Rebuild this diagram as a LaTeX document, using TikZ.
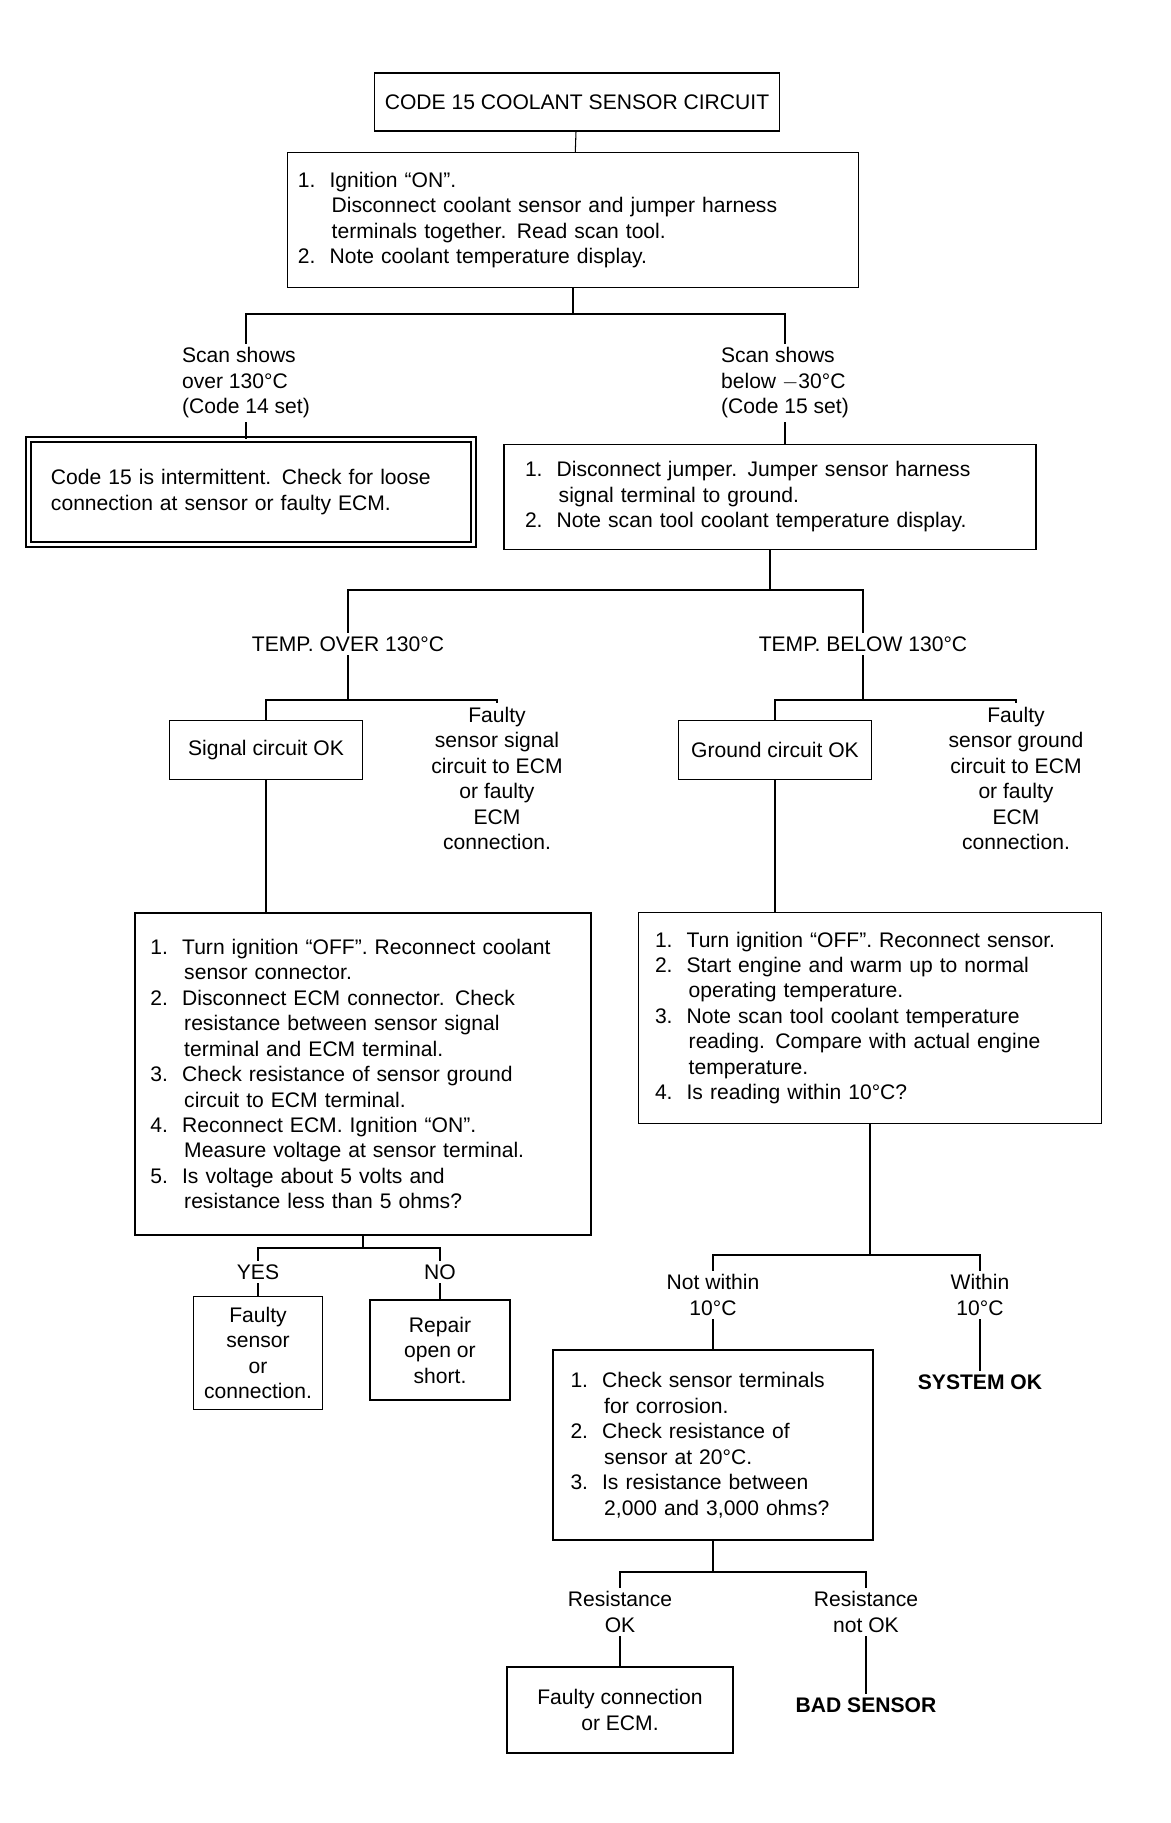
\documentclass[tikz,border=0pt]{standalone}
\usepackage{fontspec}
\setmainfont{Liberation Sans}
\begin{document}
\begin{tikzpicture}[x=0.2mm, y=-0.2mm,
          every node/.style={font=\fontsize{12}{14.5}\selectfont},
          box/.style={draw, thick, align=left, inner sep=6pt},
          dbox/.style={draw, double, double distance=2pt, thick, align=left, inner sep=7pt},
          txt/.style={align=left, inner sep=2pt},
          ctxt/.style={align=center, inner sep=2pt},
          bold txt/.style={align=center, inner sep=2pt, font=\fontsize{12}{14.5}\selectfont\bfseries},
          link/.style={semithick}]
          \useasboundingbox (0,0) rectangle (1171,1823);
          % top
          \node[box, align=center, minimum width=64.4mm, minimum height=11.6mm] (title) at (577,102) {CODE 15 COOLANT SENSOR CIRCUIT};
          \node[box, text width=110mm, minimum height=27mm] (steps) at (573,220) {1.\ \ Ignition ``ON''.\\
              \hspace*{1.6em}Disconnect coolant sensor and jumper harness\\
              \hspace*{1.6em}terminals together. Read scan tool.\\
              2.\ \ Note coolant temperature display.};
          \coordinate (j0) at (573,314);
          \node[txt] (outL) at (246,383) {Scan shows\\over 130°C\\(Code 14 set)};
          \node[txt] (outR) at (785,383) {Scan shows\\below $-$30°C\\(Code 15 set)};
          \node[dbox, text width=80mm, minimum width=89mm, minimum height=21mm] (boxL) at (251,492) {Code 15 is intermittent. Check for loose\\connection at sensor or faulty ECM.};
          \node[box, text width=98mm, minimum width=106.4mm, minimum height=21mm] (boxR) at (770,497) {1.\ \ Disconnect jumper. Jumper sensor harness\\
              \hspace*{1.6em}signal terminal to ground.\\
              2.\ \ Note scan tool coolant temperature display.};
          \draw[link] (title) -- (steps);
          \draw[link] (steps.south) -- (j0);
          \draw[link] (outL.north) |- (j0) -| (outR.north);
          \draw[link] (outL.south) -- (outL.south |- boxL.north);
          \draw[link] (outR.south) -- (outR.south |- boxR.north);
          % middle
          \coordinate (j1) at (770,590);
          \node[ctxt] (labL) at (348,644) {TEMP. OVER 130°C};
          \node[ctxt] (labR) at (863,644) {TEMP. BELOW 130°C};
          \draw[link] (boxR.south) -- (j1);
          \draw[link] (labL.north) |- (j1) -| (labR.north);
          \node[box, align=center, minimum width=38.6mm, minimum height=11.8mm] (smallL) at (266,750) {Signal circuit OK};
          \node[box, align=center, minimum width=38.6mm, minimum height=11.8mm] (smallR) at (775,750) {Ground circuit OK};
          \node[ctxt, anchor=north] (tallL) at (497,703) {Faulty\\sensor signal\\circuit to ECM\\or faulty\\ECM\\connection.};
          \node[ctxt, anchor=north] (tallR) at (1016,703) {Faulty\\sensor ground\\circuit to ECM\\or faulty\\ECM\\connection.};
          \coordinate (j2) at (348,700);
          \coordinate (j3) at (863,700);
          \draw[link] (labL.south) -- (j2);
          \draw[link] (smallL.north) |- (j2) -| (tallL.north);
          \draw[link] (labR.south) -- (j3);
          \draw[link] (smallR.north) |- (j3) -| (tallR.north);
          \node[box, text width=85mm, minimum width=91.2mm, minimum height=64.4mm] (bigL) at (363,1074) {1.\ \ Turn ignition ``OFF''. Reconnect coolant\\
              \hspace*{1.6em}sensor connector.\\
              2.\ \ Disconnect ECM connector. Check\\
              \hspace*{1.6em}resistance between sensor signal\\
              \hspace*{1.6em}terminal and ECM terminal.\\
              3.\ \ Check resistance of sensor ground\\
              \hspace*{1.6em}circuit to ECM terminal.\\
              4.\ \ Reconnect ECM. Ignition ``ON''.\\
              \hspace*{1.6em}Measure voltage at sensor terminal.\\
              5.\ \ Is voltage about 5 volts and\\
              \hspace*{1.6em}resistance less than 5 ohms?};
          \node[box, text width=86mm, minimum width=92.6mm, minimum height=42.2mm] (bigR) at (870,1018) {1.\ \ Turn ignition ``OFF''. Reconnect sensor.\\
              2.\ \ Start engine and warm up to normal\\
              \hspace*{1.6em}operating temperature.\\
              3.\ \ Note scan tool coolant temperature\\
              \hspace*{1.6em}reading. Compare with actual engine\\
              \hspace*{1.6em}temperature.\\
              4.\ \ Is reading within 10°C?};
          \draw[link] (smallL.south) -- (smallL.south |- bigL.north);
          \draw[link] (smallR.south) -- (smallR.south |- bigR.north);
          % lower left
          \coordinate (j4) at (363,1248);
          \node[ctxt] (yesL) at (258,1272) {YES};
          \node[ctxt] (noL) at (440,1272) {NO};
          \draw[link] (bigL.south) -- (j4);
          \draw[link] (yesL.north) |- (j4) -| (noL.north);
          \node[box, align=center, minimum width=25.4mm, minimum height=21.4mm] (boxYL) at (258,1353) {Faulty\\sensor\\or\\connection.};
          \node[box, align=center, minimum width=28mm, minimum height=20mm] (boxNL) at (440,1350) {Repair\\open or\\short.};
          \draw[link] (yesL.south) -- (boxYL.north);
          \draw[link] (noL.south) -- (boxNL.north);
          % lower right
          \coordinate (j5) at (870,1255);
          \node[ctxt] (notok) at (713,1295) {Not within\\10°C};
          \node[ctxt] (isok) at (980,1295) {Within\\10°C};
          \draw[link] (bigR.south) -- (j5);
          \draw[link] (notok.north) |- (j5) -| (isok.north);
          \node[box, text width=57mm, minimum width=64mm, minimum height=38mm] (boxRR) at (713,1445) {1.\ \ Check sensor terminals\\
              \hspace*{1.6em}for corrosion.\\
              2.\ \ Check resistance of\\
              \hspace*{1.6em}sensor at 20°C.\\
              3.\ \ Is resistance between\\
              \hspace*{1.6em}2,000 and 3,000 ohms?};
          \node[bold txt] (sysok) at (980,1382) {SYSTEM OK};
          \draw[link] (notok.south) -- (boxRR.north);
          \draw[link] (isok.south) -- (sysok.north);
          \coordinate (j6) at (713,1572);
          \node[ctxt] (resok) at (620,1612) {Resistance\\OK};
          \node[ctxt] (resbad) at (866,1612) {Resistance\\not OK};
          \draw[link] (boxRR.south) -- (j6);
          \draw[link] (resok.north) |- (j6) -| (resbad.north);
          \node[box, align=center, minimum width=45.2mm, minimum height=17.2mm] (boxEnd) at (620,1710) {Faulty connection\\or ECM.};
          \node[bold txt] (badsens) at (866,1705) {BAD SENSOR};
          \draw[link] (resok.south) -- (boxEnd.north);
          \draw[link] (resbad.south) -- (badsens.north);
      \end{tikzpicture}
\end{document}
